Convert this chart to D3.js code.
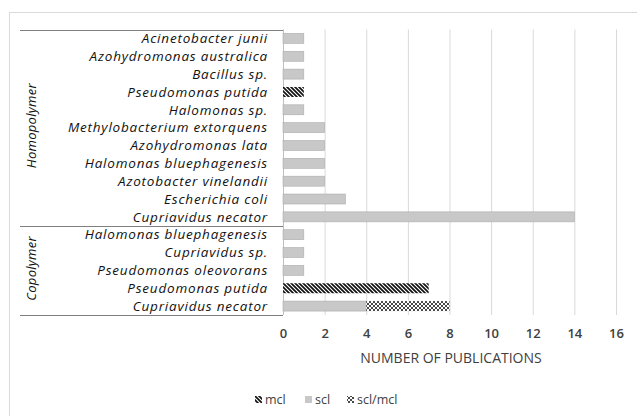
<!DOCTYPE html>
<html><head><meta charset="utf-8">
<script src="https://cdn.jsdelivr.net/npm/d3@7"></script>
<style>html,body{margin:0;padding:0;background:#fff;}svg{display:block;}</style>
</head><body>
<svg id="c" width="637" height="416"></svg>
<script>
// ---- data ----
const groups = ["Homopolymer", "Copolymer"];
const categories = [
  "Acinetobacter junii","Azohydromonas australica","Bacillus sp.","Pseudomonas putida",
  "Halomonas  sp.","Methylobacterium extorquens","Azohydromonas lata","Halomonas bluephagenesis",
  "Azotobacter vinelandii","Escherichia coli","Cupriavidus necator",
  "Halomonas bluephagenesis","Cupriavidus sp.","Pseudomonas oleovorans","Pseudomonas putida","Cupriavidus necator"
];
const categoryGroup = [0,0,0,0,0,0,0,0,0,0,0,1,1,1,1,1];
const seriesNames = ["mcl","scl","scl/mcl"];
const mcl    = [0,0,0,1,0,0,0,0,0,0,0, 0,0,0,7,0];
const scl    = [1,1,1,0,1,2,2,2,2,3,14, 1,1,1,0,4];
const sclmcl = [0,0,0,0,0,0,0,0,0,0,0, 0,0,0,0,4];
const xTicks = [0,2,4,6,8,10,12,14,16];
const xTitle = "NUMBER OF PUBLICATIONS";

// ---- drawing ----
const svg = d3.select("#c");
const defs = svg.append("defs");
const p1 = defs.append("pattern").attr("id","pMcl").attr("patternUnits","userSpaceOnUse")
  .attr("width",4).attr("height",4);
p1.append("rect").attr("width",4).attr("height",4).attr("fill","#fff");
p1.append("path").attr("d","M-1,-1 L5,5 M-1,3 L1,5 M3,-1 L5,1").attr("stroke","#111").attr("stroke-width",1.7);
const p2 = defs.append("pattern").attr("id","pMix").attr("patternUnits","userSpaceOnUse")
  .attr("width",4).attr("height",4);
p2.append("rect").attr("width",4).attr("height",4).attr("fill","#fff");
p2.append("path").attr("d","M0,0 L4,4 M4,0 L0,4").attr("stroke","#333").attr("stroke-width",0.9);
const fills = ["url(#pMcl)","#c8c8c8","url(#pMix)"];

// outer chart border
svg.append("rect").attr("x",9.5).attr("y",12.5).attr("width",700).attr("height",500)
  .attr("fill","none").attr("stroke","#d9d9d9");

const x = d3.scaleLinear().domain([0,16]).range([283,616]);
const y = d3.scaleBand().domain(d3.range(categories.length)).range([29.5,315]).paddingInner(0.44).paddingOuter(0.22);

// gridlines
const xAxis = d3.axisBottom(x).tickValues(xTicks).tickSize(-(315-29.5)).tickPadding(14);
const gx = svg.append("g").attr("transform","translate(0,315)").call(xAxis);
gx.select(".domain").remove();
gx.selectAll(".tick line").attr("stroke","#d9d9d9");
gx.selectAll(".tick text").attr("fill","#404040").style("font-family","'Open Sans',sans-serif")
  .style("font-size","13px").style("font-weight","600");

// vertical axis line
svg.append("line").attr("x1",283.5).attr("x2",283.5).attr("y1",29.5).attr("y2",315).attr("stroke","#bfbfbf");

// stacked bars
const table = categories.map((c,i)=>({i, mcl:mcl[i], scl:scl[i], "scl/mcl":sclmcl[i]}));
const stack = d3.stack().keys(seriesNames)(table);
stack.forEach((s,k)=>{
  svg.append("g").selectAll("rect").data(s).join("rect")
    .attr("x",d=>x(d[0])).attr("width",d=>x(d[1])-x(d[0]))
    .attr("y",(d,i)=>y(i)).attr("height",y.bandwidth())
    .attr("fill",fills[k])
    .attr("stroke",k===1?"#acacac":"none").attr("stroke-width",0.6)
    .attr("display",d=>d[1]>d[0]?null:"none");
});

// category labels
svg.append("g").selectAll("text").data(categories).join("text")
  .attr("x",268).attr("y",(d,i)=>y(i)+y.bandwidth()/2).attr("dy","0.35em")
  .attr("text-anchor","end").attr("fill","#111")
  .style("font-family","'Open Sans',sans-serif").style("font-style","italic").style("font-size","13.5px")
  .style("letter-spacing","0.8px")
  .text(d=>d);

// group separators
const gStart = groups.map((g,gi)=>categoryGroup.indexOf(gi));
const gEnd = groups.map((g,gi)=>categoryGroup.lastIndexOf(gi));
const bandTop = i => 29.5 + i*((315-29.5)/categories.length);
const lines = [29.5].concat(gEnd.map(e=>bandTop(e+1)));
svg.append("g").selectAll("line").data(lines).join("line")
  .attr("x1",20).attr("x2",283).attr("y1",d=>Math.round(d)+0.5).attr("y2",d=>Math.round(d)+0.5)
  .attr("stroke","#7f7f7f").attr("stroke-width",1);

// group labels
svg.append("g").selectAll("text").data(groups).join("text")
  .attr("transform",(d,gi)=>`translate(31,${(bandTop(gStart[gi])+bandTop(gEnd[gi]+1))/2 - 2}) rotate(-90)`)
  .attr("text-anchor","middle").attr("dy","0.35em").attr("fill","#111")
  .style("font-family","'Open Sans',sans-serif").style("font-style","italic").style("font-size","13px")
  .style("letter-spacing","0.3px")
  .text(d=>d);

// axis title
svg.append("text").attr("x",451).attr("y",363).attr("text-anchor","middle").attr("fill","#404040")
  .style("font-family","'Open Sans',sans-serif").style("font-size","14px").text(xTitle);

// legend
const legX = [255,305,347];
const lg = svg.append("g").selectAll("g").data(seriesNames).join("g")
  .attr("transform",(d,i)=>`translate(${legX[i]},396)`);
lg.append("rect").attr("width",7).attr("height",7).attr("fill",(d,i)=>fills[i]);
lg.append("text").attr("x",10).attr("y",3.5).attr("dy","0.35em").attr("fill","#404040")
  .style("font-family","'Open Sans',sans-serif").style("font-size","12.5px").text(d=>d);
</script>
</body></html>
